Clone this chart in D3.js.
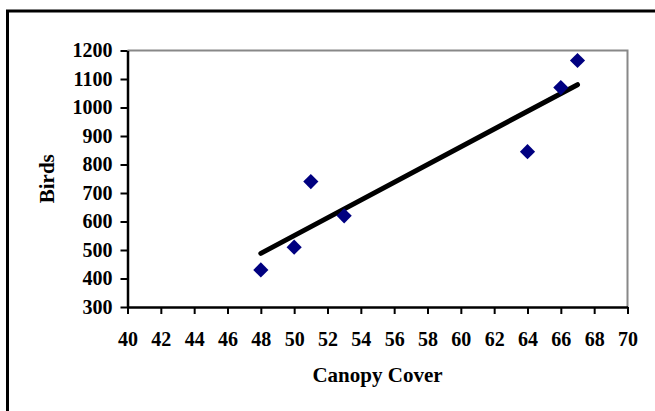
<!DOCTYPE html>
<html>
<head>
<meta charset="utf-8">
<script src="https://cdn.jsdelivr.net/npm/d3@7"></script>
<style>
  body { margin: 0; background: #fff; }
  text { font-family: "Liberation Serif", "Times New Roman", serif; font-weight: bold; fill: #000; }
</style>
</head>
<body>
<div id="chart"></div>
<script>
// canopy cover vs birds
const canopy = [48, 50, 51, 53, 64, 66, 67];
const birds = [430, 510, 740, 620, 845, 1070, 1165];
const xTicks = [40, 42, 44, 46, 48, 50, 52, 54, 56, 58, 60, 62, 64, 66, 68, 70];
const yTicks = [300, 400, 500, 600, 700, 800, 900, 1000, 1100, 1200];

const width = 655, height = 411;
let margin = { left: 127.5, right: 27.5, top: 50.5, bottom: 104 };

let svg = d3.select("#chart")
  .append("svg")
    .attr("width", width)
    .attr("height", height);

// outer frame (runs off right and bottom edges)
svg.append("rect")
  .attr("x", 7.5).attr("y", 11)
  .attr("width", 700).attr("height", 450)
  .attr("fill", "#fff")
  .attr("stroke", "#000")
  .attr("stroke-width", 3);

let x = d3.scaleLinear()
  .domain([40, 70])
  .range([margin.left, width - margin.right]);

let y = d3.scaleLinear()
  .domain([300, 1200])
  .range([height - margin.bottom, margin.top]);

// top and right plot border in gray
svg.append("path")
  .attr("d", "M" + x(40) + "," + y(1200) + "H" + x(70) + "V" + y(300))
  .attr("fill", "none")
  .attr("stroke", "#888")
  .attr("stroke-width", 2);

let xAxis = svg.append("g")
  .attr("transform", "translate(0," + y(300) + ")")
  .call(d3.axisBottom(x).tickValues(xTicks).tickFormat(d3.format("d"))
    .tickSize(7).tickPadding(18).tickSizeOuter(0));

let yAxis = svg.append("g")
  .attr("transform", "translate(" + x(40) + ",0)")
  .call(d3.axisLeft(y).tickValues(yTicks).tickFormat(d3.format("d"))
    .tickSize(7).tickPadding(8).tickSizeOuter(0));

[xAxis, yAxis].forEach(a => {
  a.select(".domain").attr("stroke", "#000").attr("stroke-width", 2.5);
  a.selectAll(".tick line").attr("stroke", "#000").attr("stroke-width", 2);
  a.selectAll(".tick text")
    .style("font-family", "'Liberation Serif', 'Times New Roman', serif")
    .style("font-weight", "bold")
    .style("font-size", "20px")
    .attr("fill", "#000");
});

// linear trendline from the data
let mx = d3.mean(canopy), my = d3.mean(birds);
let sxy = d3.sum(canopy, (d, i) => (d - mx) * (birds[i] - my));
let sxx = d3.sum(canopy, d => (d - mx) * (d - mx));
let slope = sxy / sxx, icept = my - slope * mx;
let ends = d3.extent(canopy);

svg.append("line")
  .attr("x1", x(ends[0])).attr("y1", y(icept + slope * ends[0]))
  .attr("x2", x(ends[1])).attr("y2", y(icept + slope * ends[1]))
  .attr("stroke", "#000")
  .attr("stroke-width", 5)
  .attr("stroke-linecap", "round");

svg.append("g")
  .selectAll("path")
  .data(canopy)
  .enter()
  .append("path")
    .attr("d", d3.symbol().type(d3.symbolSquare).size(115))
    .attr("transform", (d, i) => "translate(" + x(d) + "," + y(birds[i]) + ") rotate(45)")
    .attr("fill", "#000080");

svg.append("text")
  .attr("x", (x(40) + x(70)) / 2)
  .attr("y", 382)
  .attr("text-anchor", "middle")
  .style("font-size", "21px")
  .text("Canopy Cover");

svg.append("text")
  .attr("transform", "translate(54," + (y(300) + y(1200)) / 2 + ") rotate(-90)")
  .attr("text-anchor", "middle")
  .style("font-size", "21px")
  .text("Birds");
</script>
</body>
</html>
